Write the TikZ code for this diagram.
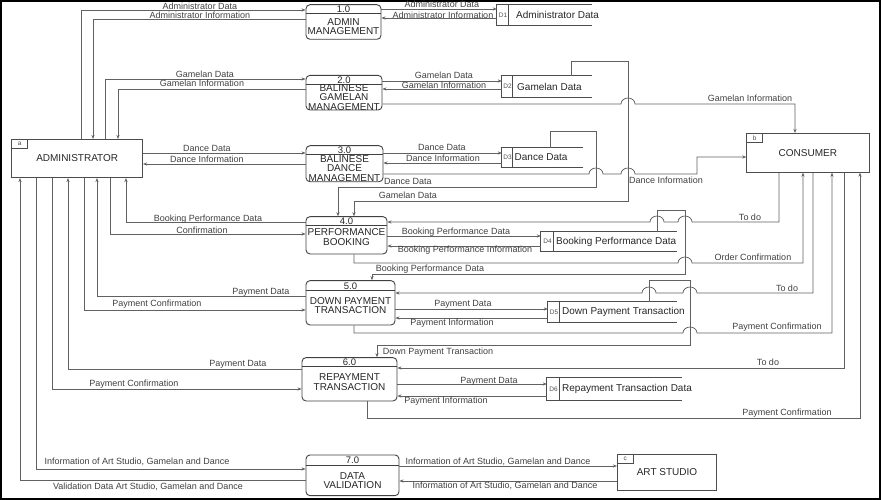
\documentclass[tikz,border=0pt]{standalone}
\usepackage{fontspec}
\setmainfont{Liberation Sans}
\usepackage{tikz}
\usetikzlibrary{arrows.meta, positioning, calc}

\begin{document}
\begin{tikzpicture}[
  x=1pt, y=-1pt,
  font=\fontsize{9}{10}\selectfont,
  >={Stealth[length=4pt, width=3.2pt]},
  proc/.style={draw=black!75, line width=0.9pt, rounded corners=4pt, inner sep=0pt},
  ent/.style={draw=black!70, line width=0.8pt, inner sep=0pt, font=\fontsize{10}{12}\selectfont, text=black!85},
  tag/.style={draw=black!70, line width=0.6pt, anchor=north west, inner sep=0pt, minimum width=16pt, minimum height=9pt, font=\fontsize{6.5}{7}\selectfont, text=black!70},
  ptxt/.style={align=center, inner sep=0pt, font=\fontsize{10}{9.5}\selectfont, text=black!85},
  pnum/.style={inner sep=0pt, font=\fontsize{9.5}{10}\selectfont, text=black!85},
  store/.style={inner sep=0pt},
  sline/.style={draw=black!70, line width=0.8pt},
  sid/.style={inner sep=0pt, font=\fontsize{6.5}{7}\selectfont, text=black!70},
  stxt/.style={anchor=west, inner sep=0pt, font=\fontsize{10}{12}\selectfont, text=black!85},
  lbl/.style={inner sep=0pt, text height=6.5pt, text depth=1.5pt, text=black!75},
  arr/.style={->, line width=0.75pt, black!62},
]
\useasboundingbox (0,0) rectangle (881,500);
\draw[line width=2.4pt] (1.2,1.2) rectangle (879.8,498.8);

% external entities
\node[ent, minimum width=131pt, minimum height=38.4pt] (adm) at (77.2,158.5) {ADMINISTRATOR};
\node[tag] (adm-tag) at (adm.north west) {a};
\node[ent, minimum width=122.3pt, minimum height=39pt] (con) at (807.8,152.8) {CONSUMER};
\node[tag] (con-tag) at (con.north west) {b};
\node[ent, minimum width=99.4pt, minimum height=35.7pt] (art) at (667,472.2) {ART STUDIO};
\node[tag] (art-tag) at (art.north west) {c};

% processes
\node[proc, minimum width=75pt, minimum height=34.6pt] (p1) at (343.5,22) {};
\node[proc, minimum width=76pt, minimum height=34.7pt] (p2) at (344,92.7) {};
\node[proc, minimum width=77pt, minimum height=36pt] (p3) at (344.5,163.7) {};
\node[proc, minimum width=81pt, minimum height=37.3pt] (p4) at (346.5,235.3) {};
\node[proc, minimum width=89pt, minimum height=44.3pt] (p5) at (350.5,302.8) {};
\node[proc, minimum width=95pt, minimum height=43.3pt] (p6) at (349.5,379.3) {};
\node[proc, minimum width=93pt, minimum height=40.7pt] (p7) at (352.5,475.3) {};
\foreach \p/\h in {p1/13, p2/84, p3/154.5, p4/225, p5/290, p6/366, p7/465}
  \draw[black!75, line width=0.8pt] (\p.west |- 0,\h) -- (\p.east |- 0,\h);

\node[pnum] (p1-num) at (343.5,9) {1.0};
\node[pnum] (p2-num) at (344,80) {2.0};
\node[pnum] (p3-num) at (344.5,150.5) {3.0};
\node[pnum] (p4-num) at (346.5,221.5) {4.0};
\node[pnum] (p5-num) at (350.5,286) {5.0};
\node[pnum] (p6-num) at (349.5,362) {6.0};
\node[pnum] (p7-num) at (352.5,460.5) {7.0};
\node[ptxt] (p1-txt) at (343.5,26.5) {ADMIN\\MANAGEMENT};
\node[ptxt] (p2-txt) at (344,97.5) {BALINESE\\GAMELAN\\MANAGEMENT};
\node[ptxt] (p3-txt) at (344.5,168.5) {BALINESE\\DANCE\\MANAGEMENT};
\node[ptxt] (p4-txt) at (346.5,237) {PERFORMANCE\\BOOKING};
\node[ptxt] (p5-txt) at (350.5,305.5) {DOWN PAYMENT\\TRANSACTION};
\node[ptxt] (p6-txt) at (349.5,382) {REPAYMENT\\TRANSACTION};
\node[ptxt] (p7-txt) at (352.5,480.5) {DATA\\VALIDATION};

% data stores
\node[store, minimum width=95pt, minimum height=20pt] (d1) at (544.5,15) {};
\node[store, minimum width=90pt, minimum height=21pt] (d2) at (547,86.5) {};
\node[store, minimum width=81pt, minimum height=19pt] (d3) at (542.5,157.5) {};
\node[store, minimum width=136pt, minimum height=19pt] (d4) at (609,241.5) {};
\node[store, minimum width=129pt, minimum height=20pt] (d5) at (612.5,312) {};
\node[store, minimum width=135pt, minimum height=22pt] (d6) at (614.5,389) {};
\foreach \d/\w in {d1/12, d2/11, d3/11, d4/13, d5/12, d6/13} {
  \draw[sline] (\d.north east) -- (\d.north west) -- (\d.south west) -- (\d.south east);
  \draw[sline] ([xshift=\w pt]\d.north west) -- ([xshift=\w pt]\d.south west);
}
\node[sid] (d1-id) at (503,15) {D1};
\node[sid] (d2-id) at (507.5,86.5) {D2};
\node[sid] (d3-id) at (507.5,157.5) {D3};
\node[sid] (d4-id) at (547.5,241.5) {D4};
\node[sid] (d5-id) at (554,312) {D5};
\node[sid] (d6-id) at (553.5,389) {D6};
\node[stxt] (d1-txt) at (516,15) {Administrator Data};
\node[stxt] (d2-txt) at (517,86.5) {Gamelan Data};
\node[stxt] (d3-txt) at (514.5,157.5) {Dance Data};
\node[stxt] (d4-txt) at (556,241.5) {Booking Performance Data};
\node[stxt] (d5-txt) at (562,312) {Down Payment Transaction};
\node[stxt] (d6-txt) at (562,389) {Repayment Transaction Data};

% administrator <-> processes
\draw[arr] (adm.north -| 81,0) |- (p1.west |- 0,10);
\draw[arr] (p1.west |- 0,19) -| (adm.north -| 93,0);
\draw[arr] (adm.north -| 105,0) |- (p2.west |- 0,79);
\draw[arr] (p2.west |- 0,89) -| (adm.north -| 118,0);
\draw[arr] (adm.east |- 0,153) -- (p3.west |- 0,153);
\draw[arr] (p3.west |- 0,164) -- (adm.east |- 0,164);
\draw[arr] (p4.west |- 0,222) -| (adm.south -| 126,0);
\draw[arr] (adm.south -| 110,0) |- (p4.west |- 0,234);
\draw[arr] (p5.west |- 0,296) -| (adm.south -| 97,0);
\draw[arr] (adm.south -| 84,0) |- (p5.west |- 0,310);
\draw[arr] (p6.west |- 0,369) -| (adm.south -| 68,0);
\draw[arr] (adm.south -| 52,0) |- (p6.west |- 0,389);
\draw[arr] (adm.south -| 36,0) |- (p7.west |- 0,469);
\draw[arr] (p7.west |- 0,480) -| (adm.south -| 20,0);

\node[lbl] (f1) at (200,7) {Administrator Data};
\node[lbl] (f2) at (200,16) {Administrator Information};
\node[lbl] (f3) at (205,75) {Gamelan Data};
\node[lbl] (f4) at (202,84) {Gamelan Information};
\node[lbl] (f5) at (207,149) {Dance Data};
\node[lbl] (f6) at (207,160) {Dance Information};
\node[lbl] (f17) at (208,219) {Booking Performance Data};
\node[lbl] (f18) at (202,231) {Confirmation};
\node[lbl] (f24) at (261,292) {Payment Data};
\node[lbl] (f25) at (157,304) {Payment Confirmation};
\node[lbl] (f31) at (238,364) {Payment Data};
\node[lbl] (f32) at (134,384) {Payment Confirmation};
\node[lbl] (f37) at (137,462) {Information of Art Studio, Gamelan and Dance};
\node[lbl] (f38) at (148,487) {Validation Data Art Studio, Gamelan and Dance};

% processes <-> data stores
\draw[arr] (p1.east |- 0,9) -- (d1.west |- 0,9);
\draw[arr] (d1.west |- 0,18) -- (p1.east |- 0,18);
\draw[arr] (p2.east |- 0,81) -- (d2.west |- 0,81);
\draw[arr] (d2.west |- 0,89) -- (p2.east |- 0,89);
\draw[arr] (p3.east |- 0,153) -- (d3.west |- 0,153);
\draw[arr] (d3.west |- 0,163) -- (p3.east |- 0,163);
\draw[arr] (p4.east |- 0,236) -- (d4.west |- 0,236);
\draw[arr] (d4.west |- 0,246) -- (p4.east |- 0,246);
\draw[arr] (p5.east |- 0,309) -- (d5.west |- 0,309);
\draw[arr] (d5.west |- 0,318) -- (p5.east |- 0,318);
\draw[arr] (p6.east |- 0,384) -- (d6.west |- 0,384);
\draw[arr] (d6.west |- 0,396) -- (p6.east |- 0,396);
\draw[arr] (p7.east |- 0,466) -- (art.west |- 0,466);
\draw[arr] (art.west |- 0,481) -- (p7.east |- 0,481);

\draw[arr] (d2.north -| 571,0) |- (628,61) -- (628,201) -| (p4.north -| 354,0);
\draw[arr] (d3.north -| 550,0) |- (596,131) -- (596,187) -| (p4.north -| 338,0);
\draw[arr] (d4.north -| 657,0) |- (685,210) -- (685,274) -| (p5.north -| 372,0);
\draw[arr] (d5.north -| 649,0) |- (690,280) -- (690,345) -| (p6.north -| 377,0);

\node[lbl] (f7) at (442,5) {Administrator Data};
\node[lbl] (f8) at (443,16) {Administrator Information};
\node[lbl] (f9) at (444,76) {Gamelan Data};
\node[lbl] (f10) at (444,86) {Gamelan Information};
\node[lbl] (f11) at (442,148) {Dance Data};
\node[lbl] (f12) at (443,159) {Dance Information};
\node[lbl] (f14) at (408,196) {Gamelan Data};
\node[lbl] (f15) at (408,182) {Dance Data};
\node[lbl] (f19) at (456,232) {Booking Performance Data};
\node[lbl] (f20) at (465,250) {Booking Performance Information};
\node[lbl] (f21) at (430,269) {Booking Performance Data};
\node[lbl] (f26) at (463,304) {Payment Data};
\node[lbl] (f27) at (452,323) {Payment Information};
\node[lbl] (f30) at (438,352) {Down Payment Transaction};
\node[lbl] (f33) at (489,381) {Payment Data};
\node[lbl] (f34) at (446,401) {Payment Information};
\node[lbl] (f39) at (498,462) {Information of Art Studio, Gamelan and Dance};
\node[lbl] (f40) at (505,486) {Information of Art Studio, Gamelan and Dance};

% processes <-> consumer (with line hops)
\draw[arr] (p2.east |- 0,104) -- (621,104)
  arc[start angle=180, end angle=0, x radius=7pt, y radius=6pt] -| (con.north -| 795,0);
\draw[arr] (p3.east |- 0,174) -- (589,174)
  arc[start angle=180, end angle=0, x radius=7pt, y radius=6pt] -- (621,174)
  arc[start angle=180, end angle=0, x radius=7pt, y radius=6pt] -- (697,174) |- (con.west |- 0,157);
\draw[arr] (con.south -| 779,0) |- (692,222)
  arc[start angle=0, end angle=180, x radius=7pt, y radius=6pt] -- (664,222)
  arc[start angle=0, end angle=180, x radius=7pt, y radius=6pt] -- (p4.east |- 0,222);
\draw[arr] (p4.south -| 354,0) |- (678,263)
  arc[start angle=180, end angle=0, x radius=7pt, y radius=6pt] -| (con.south -| 803,0);
\draw[arr] (con.south -| 813,0) |- (697,293)
  arc[start angle=0, end angle=180, x radius=7pt, y radius=6pt] -- (656,293)
  arc[start angle=0, end angle=180, x radius=7pt, y radius=6pt] -- (p5.east |- 0,293);
\draw[arr] (p5.south -| 354,0) |- (683,333)
  arc[start angle=180, end angle=0, x radius=7pt, y radius=6pt] -| (con.south -| 832,0);
\draw[arr] (con.south -| 844,0) |- (p6.east |- 0,368);
\draw[arr] (p6.south -| 367,0) |- (860,418) -- (con.south -| 860,0);

\node[lbl] (f13) at (750,99) {Gamelan Information};
\node[lbl] (f16) at (666,181) {Dance Information};
\node[lbl] (f22) at (750,218) {To do};
\node[lbl] (f23) at (753,258) {Order Confirmation};
\node[lbl] (f28) at (787,289) {To do};
\node[lbl] (f29) at (777,327) {Payment Confirmation};
\node[lbl] (f35) at (768,363) {To do};
\node[lbl] (f36) at (787,413) {Payment Confirmation};
\end{tikzpicture}
\end{document}
